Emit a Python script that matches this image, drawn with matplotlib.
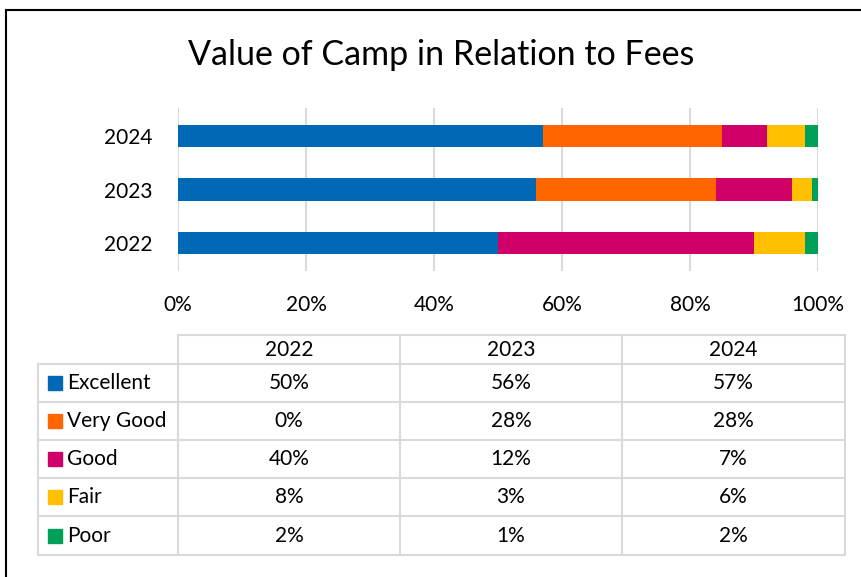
import matplotlib.pyplot as plt
from matplotlib.lines import Line2D
from matplotlib.patches import Rectangle

plt.rcParams['font.family'] = ['Lato', 'DejaVu Sans']

# ---- data ----
years = ["2022", "2023", "2024"]
ratings = ["Excellent", "Very Good", "Good", "Fair", "Poor"]
excellent = [50, 56, 57]
very_good = [0, 28, 28]
good = [40, 12, 7]
fair = [8, 3, 6]
poor = [2, 1, 2]
series = [excellent, very_good, good, fair, poor]
colors = ["#0068B5", "#FF6600", "#D10068", "#FFC000", "#00A05A"]

W, H = 862, 577
fig = plt.figure(figsize=(W / 100, H / 100), dpi=100)
FS = 15


def fx(px):
    return px / W


def fy(py):
    return 1 - py / H


# outer frame (left + top visible)
fig.add_artist(Line2D([fx(6), fx(6)], [fy(10), 0], color="black", lw=1.5))
fig.add_artist(Line2D([fx(6), 1], [fy(10), fy(10)], color="black", lw=1.5))

fig.text(fx(441), fy(55), "Value of Camp in Relation to Fees",
         ha="center", va="center", fontsize=24.5)

# ---- stacked bars ----
ax = fig.add_axes([fx(178), fy(271), fx(818) - fx(178), (271 - 108) / H])
left = [0, 0, 0]
for vals, c in zip(series, colors):
    ax.barh(years, vals, left=left, height=0.42, color=c, zorder=3)
    left = [l + v for l, v in zip(left, vals)]

ax.set_xlim(0, 100)
ax.set_ylim(-0.52, 2.52)
ax.set_xticks(range(0, 101, 20))
ax.set_xticklabels([f"{t}%" for t in range(0, 101, 20)], fontsize=FS)
ax.tick_params(axis="x", length=0, pad=17)
ax.tick_params(axis="y", length=0, pad=18, labelsize=FS)
ax.grid(axis="x", color="#D9D9D9", lw=1.5, zorder=0)
for s in ax.spines.values():
    s.set_visible(False)

# ---- data table ----
tx = fig.add_axes([0, 0, 1, 1], zorder=-1)
tx.set_xlim(0, W)
tx.set_ylim(H, 0)
tx.axis("off")

gc = "#D9D9D9"
col_x = [38, 178, 400, 622, 845]
row_y = [335, 364, 402, 440, 478, 516, 555]

tx.plot([178, 845], [335, 335], color=gc, lw=1.5)
for y in row_y[1:]:
    tx.plot([38, 845], [y, y], color=gc, lw=1.5)
tx.plot([38, 38], [364, 555], color=gc, lw=1.5)
for x in col_x[1:]:
    tx.plot([x, x], [335, 555], color=gc, lw=1.5)

for j, yr in enumerate(years):
    cx = (col_x[j + 1] + col_x[j + 2]) / 2
    tx.text(cx, (row_y[0] + row_y[1]) / 2, yr, ha="center", va="center", fontsize=FS)

for i, (name, vals, c) in enumerate(zip(ratings, series, colors)):
    cy = (row_y[i + 1] + row_y[i + 2]) / 2
    tx.add_patch(Rectangle((48, cy - 7), 14, 14, color=c))
    tx.text(67, cy, name, ha="left", va="center", fontsize=FS)
    for j, v in enumerate(vals):
        cx = (col_x[j + 1] + col_x[j + 2]) / 2
        tx.text(cx, cy, f"{v}%", ha="center", va="center", fontsize=FS)

fig.savefig("out.png", dpi=100)
